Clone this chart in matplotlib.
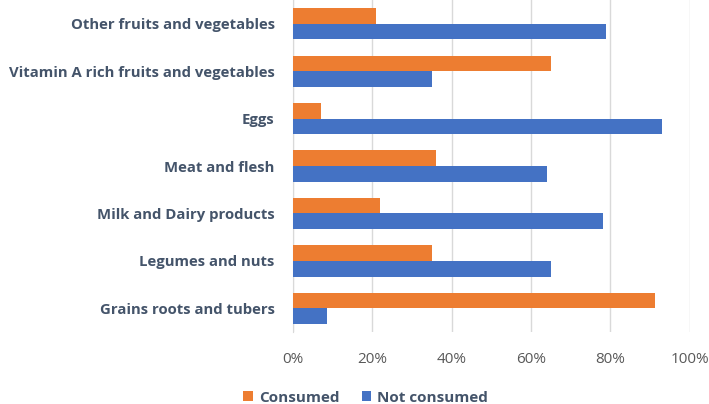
import numpy as np
import matplotlib.pyplot as plt

# Food groups, listed top to bottom as in the chart
categories = ['Other fruits and vegetables', 'Vitamin A rich fruits and vegetables',
              'Eggs', 'Meat and flesh', 'Milk and Dairy products',
              'Legumes and nuts', 'Grains roots and tubers']
consumed = [21, 65, 7, 36, 22, 35, 91.3]
not_consumed = [79, 35, 93, 64, 78, 65, 8.7]
xticks = [0, 20, 40, 60, 80, 100]

plt.rcParams['font.family'] = ['Open Sans', 'DejaVu Sans']

fig = plt.figure(figsize=(7.09, 4.04), dpi=100)
ax = fig.add_axes([0.413, 0.178, 0.560, 0.822])

y = np.arange(len(categories))
h = 0.33
ax.barh(y - h / 2, consumed, height=h, color='#ED7D31', label='Consumed', zorder=3)
ax.barh(y + h / 2, not_consumed, height=h, color='#4472C4', label='Not consumed', zorder=3)

ax.set_ylim(len(categories) - 0.5, -0.5)
ax.set_xlim(0, 100)
ax.set_yticks(y)
ax.set_yticklabels(categories, fontsize=10.7, fontweight='bold', color='#44546A')
ax.set_xticks(xticks)
ax.set_xticklabels([f'{v}%' for v in xticks], fontsize=11, color='#595959')
ax.tick_params(axis='both', length=0)
ax.tick_params(axis='y', pad=13)
ax.tick_params(axis='x', pad=14)

ax.grid(axis='x', color='#D9D9D9', linewidth=1, zorder=0)
for side in ['top', 'right', 'bottom']:
    ax.spines[side].set_visible(False)
ax.spines['left'].set_color('#D9D9D9')

leg = fig.legend(loc='center', bbox_to_anchor=(0.516, 0.016), ncol=2, frameon=False,
                 handlelength=0.6, handleheight=0.6, handletextpad=0.4, columnspacing=1.5,
                 prop={'size': 11, 'weight': 'bold'})
for t in leg.get_texts():
    t.set_color('#44546A')

fig.savefig('out.png', dpi=100)
